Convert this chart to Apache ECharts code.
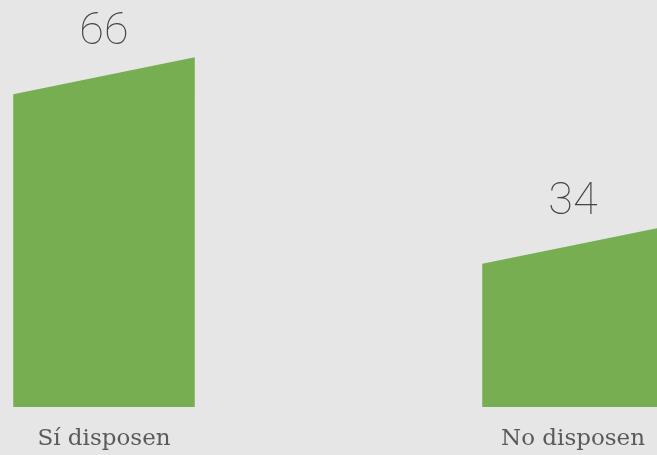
<!DOCTYPE html>
<html><head><meta charset="utf-8">
<script src="https://cdn.jsdelivr.net/npm/echarts@6/dist/echarts.min.js"></script>
<style>html,body{margin:0;padding:0;background:#e6e6e6;}#c{width:657px;height:455px;}</style>
</head><body><div id="c"></div>
<script>
const categories = ['Sí disposen', 'No disposen'];
const values = [66, 34];

const chart = echarts.init(document.getElementById('c'), null, {renderer: 'canvas'});
chart.setOption({
  backgroundColor: '#e6e6e6',
  animation: false,
  grid: {left: -130.5, width: 938, top: 36, bottom: 48, outerBoundsMode: 'none', containLabel: false},
  xAxis: {type: 'category', data: categories,
    axisLine: {show: false}, axisTick: {show: false},
    axisLabel: {show: true, color: '#5a5a5a', fontFamily: 'DejaVu Serif', fontSize: 23, fontWeight: 'normal', margin: 21}},
  yAxis: {type: 'value', min: 0, max: 70, show: false, splitLine: {show: false}},
  series: [{
    type: 'custom',
    data: values.map((v, i) => [i, v]),
    renderItem: function (params, api) {
      const i = api.value(0), v = api.value(1);
      const top = api.coord([i, v]);
      const base = api.coord([i, 0]);
      const w = api.size([1, 0])[0] * 0.387;
      const x0 = top[0] - w / 2, x1 = top[0] + w / 2;
      const slant = 37;
      return {
        type: 'group',
        children: [{
          type: 'polygon',
          shape: {points: [[x0, base[1]], [x0, top[1] + slant], [x1, top[1]], [x1, base[1]]]},
          style: {fill: '#77ae52'}
        }, {
          type: 'text',
          style: {text: String(v), x: top[0], y: top[1] - 2, align: 'center', verticalAlign: 'bottom',
            fill: '#444', font: '100 45px Roboto'}
        }]
      };
    }
  }]
});
</script></body></html>
